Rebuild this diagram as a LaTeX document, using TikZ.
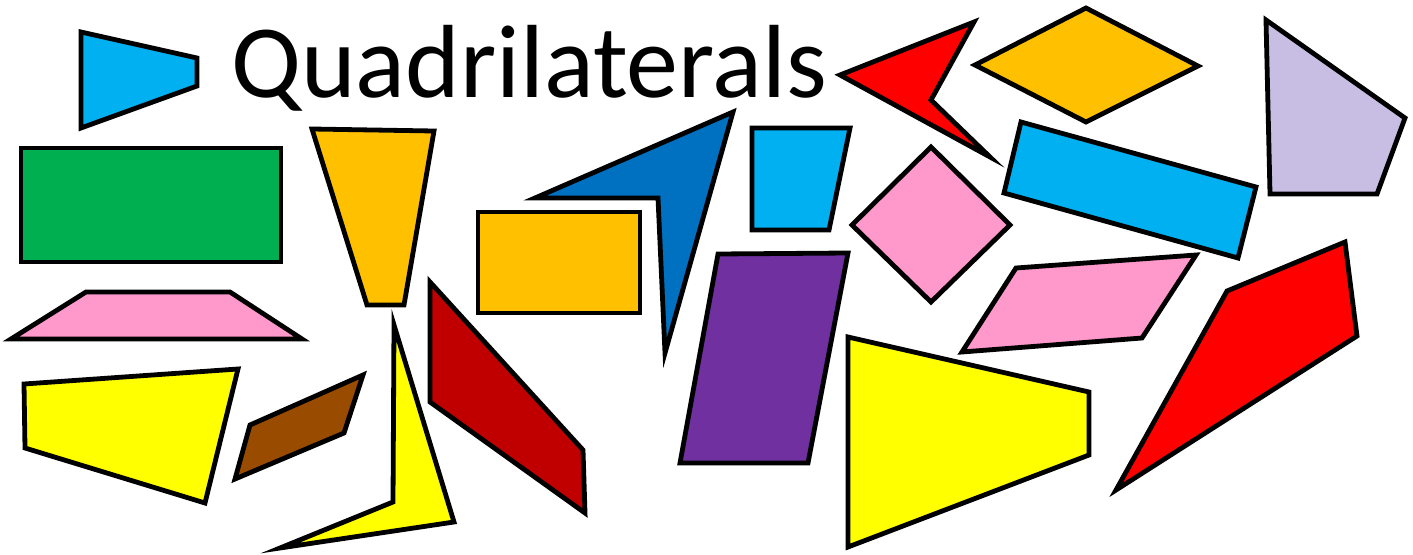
\documentclass[tikz,border=0pt]{standalone}
\usepackage{fontspec}
\setmainfont{Carlito}
\usepackage{xcolor}
\usepackage{tikz}
\definecolor{skyblue}{RGB}{0,176,240}
\definecolor{grassgreen}{RGB}{0,176,80}
\definecolor{amber}{RGB}{255,192,0}
\definecolor{rosepink}{RGB}{255,153,204}
\definecolor{lemon}{RGB}{255,255,0}
\definecolor{rust}{RGB}{153,76,0}
\definecolor{crimson}{RGB}{192,0,0}
\definecolor{royal}{RGB}{0,112,192}
\definecolor{violet}{RGB}{112,48,160}
\definecolor{scarlet}{RGB}{255,0,0}
\definecolor{lilac}{RGB}{200,190,228}
\tikzset{
  quad/.style  ={draw=black,line width=4.8pt,line join=miter},
  title/.style ={font=\fontsize{104}{120}\selectfont,inner sep=0pt,anchor=base west},
}
\begin{document}
\begin{tikzpicture}[x=1pt,y=-1pt]
  \useasboundingbox (0,0) rectangle (1413,554);
  \node[title] (title) at (231,97) {Quadrilaterals};
  % LEFT column
  \draw[quad,fill=skyblue]    (81,32) -- (197,58) -- (197,86) -- (81,128) -- cycle;
  \draw[quad,fill=grassgreen] (21,148) -- (281,148) -- (281,262) -- (21,262) -- cycle;
  \draw[quad,fill=rosepink]   (11,339) -- (86,292) -- (230,292) -- (302,339) -- cycle;
  \draw[quad,fill=lemon]      (24,384) -- (238,369) -- (205,503) -- (25,448) -- cycle;
  \draw[quad,fill=rust]       (250,425) -- (363,375) -- (344,433) -- (235,479) -- cycle;
  \draw[quad,fill=amber]      (312,129) -- (434,131) -- (404,305) -- (367,305) -- cycle;
  \draw[quad,fill=lemon]      (394,325) -- (454,522) -- (280,548) -- (393,502) -- cycle;
  % MIDDLE
  \draw[quad,fill=crimson]    (430,282) -- (583,450) -- (585,513) -- (430,402) -- cycle;
  \draw[quad,fill=amber]      (478,212) -- (640,212) -- (640,313) -- (478,313) -- cycle;
  \draw[quad,fill=royal]      (733,112) -- (665,353) -- (658,198) -- (535,198) -- cycle;
  \draw[quad,fill=skyblue]    (752,128) -- (850,128) -- (829,230) -- (752,230) -- cycle;
  \draw[quad,fill=violet]     (718,254) -- (848,253) -- (808,463) -- (680,463) -- cycle;
  \draw[quad,fill=lemon]      (848,337) -- (1089,392) -- (1089,455) -- (848,547) -- cycle;
  % RIGHT
  \draw[quad,fill=scarlet]    (840,75) -- (974,22) -- (931,100) -- (990,157) -- cycle;
  \draw[quad,fill=amber]      (975,65) -- (1086,8) -- (1198,66) -- (1086,122) -- cycle;
  \draw[quad,fill=rosepink]   (931,147) -- (1010,225) -- (931,302) -- (852,225) -- cycle;
  \draw[quad,fill=skyblue]    (1021,122) -- (1256,187) -- (1238,258) -- (1004,193) -- cycle;
  \draw[quad,fill=lilac]      (1266,20) -- (1405,118) -- (1377,194) -- (1270,194) -- cycle;
  \draw[quad,fill=rosepink]   (1016,268) -- (1196,255) -- (1142,338) -- (962,352) -- cycle;
  \draw[quad,fill=scarlet]    (1345,242) -- (1357,336) -- (1116,490) -- (1227,291) -- cycle;
\end{tikzpicture}
\end{document}
